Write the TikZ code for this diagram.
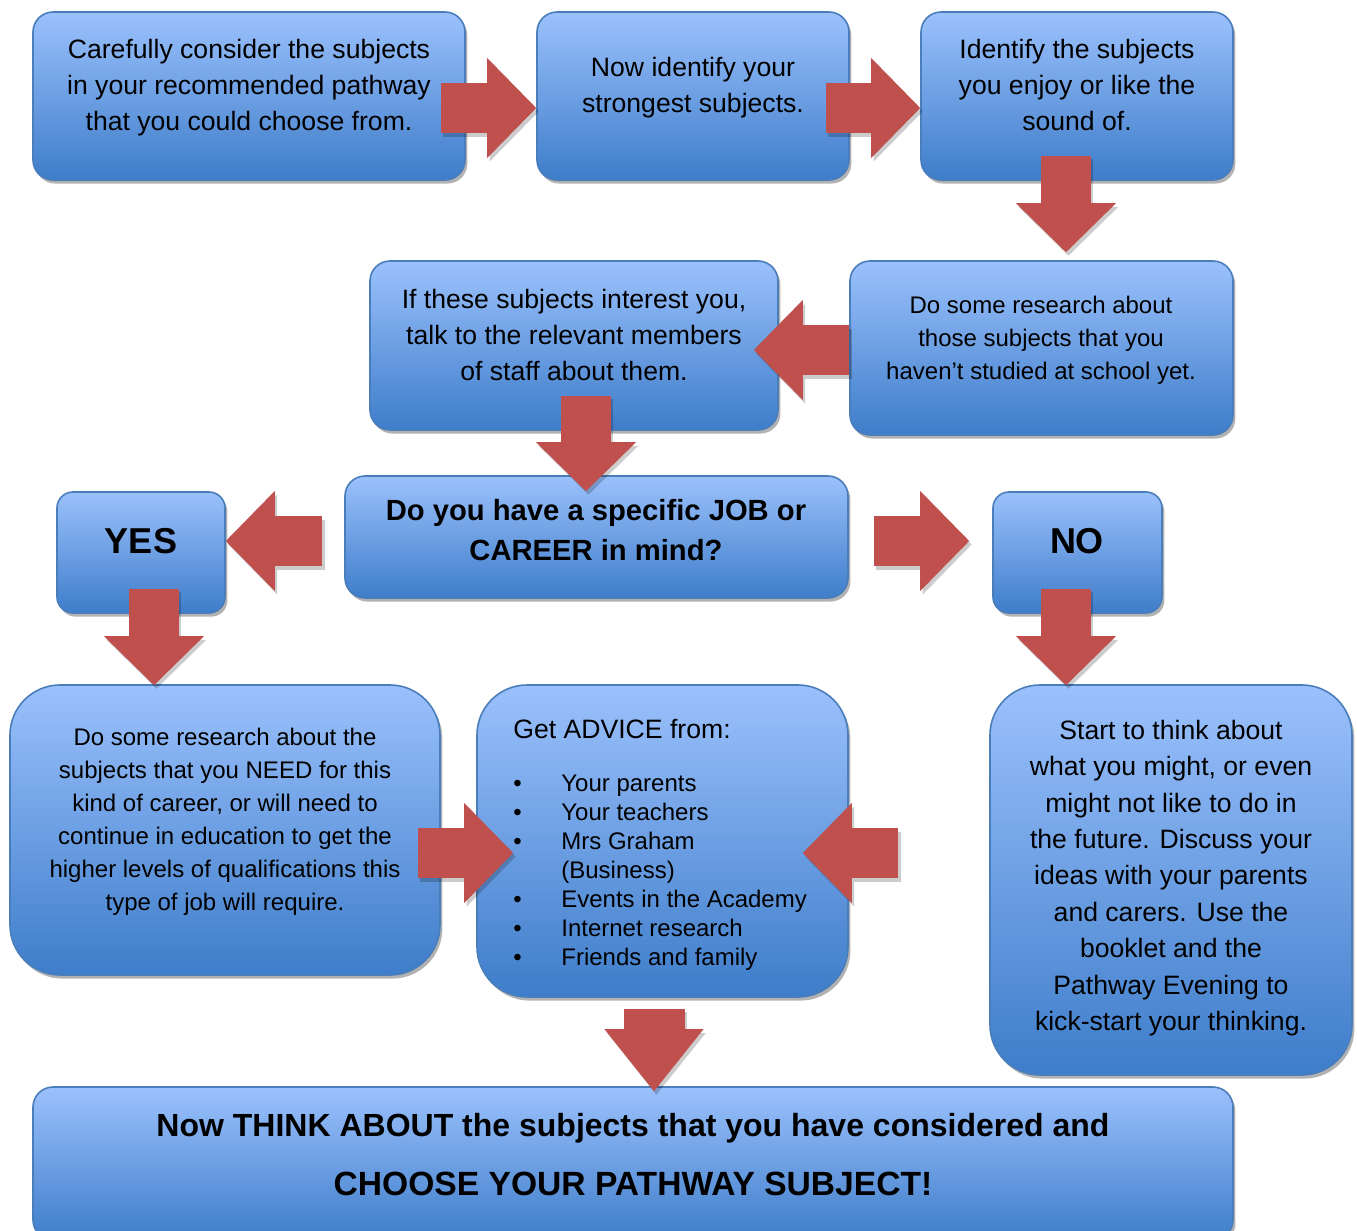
\documentclass[tikz,border=0pt]{standalone}
\usepackage{fontspec}
\setmainfont{Liberation Sans}
\usetikzlibrary{calc,fit,shadows,arrows.meta}

\definecolor{boxtop}{RGB}{155,193,252}
\definecolor{boxbot}{RGB}{62,125,202}
\definecolor{boxline}{RGB}{74,126,187}
\definecolor{arrowred}{RGB}{192,80,77}

\begin{document}
\begin{tikzpicture}[x=0.5pt,y=-0.5pt,inner sep=0pt,
		box/.style={draw=boxline,line width=0.8pt,rounded corners=10pt,top color=boxtop,bottom color=boxbot,inner sep=0pt,
			drop shadow={shadow xshift=1.2pt,shadow yshift=-1.8pt,opacity=.3,fill=black}},
		bigbox/.style={box,rounded corners=25pt},
		smallbox/.style={box,rounded corners=8pt},
		txt/.style={align=center,font=\fontsize{13.3}{18}\selectfont},
		smalltxt/.style={align=center,font=\fontsize{12}{16.5}\selectfont},
		flow/.style={arrowred,line width=25pt,-{Triangle[length=24.5pt,width=50pt,line width=0pt]}},
		flowwide/.style={arrowred,line width=30.5pt,-{Triangle[length=31pt,width=49.5pt,line width=0pt]}},
		flowshadow/.style={black,opacity=.2,transform canvas={shift={(1.2pt,-1.8pt)}}}]
	
	\useasboundingbox (0,0) rectangle (1357,1231);
	
	% boxes
	\node [box, fit={(33,12) (465,180)}] (boxA) {};
	\node [box, fit={(537,12) (849,180)}] (boxB) {};
	\node [box, fit={(921,12) (1233,180)}] (boxC) {};
	\node [box, fit={(850,261) (1233,435)}] (boxD) {};
	\node [box, fit={(370,261) (778,430)}] (boxE) {};
	\node [box, fit={(345,476) (848,598)}] (boxF) {};
	\node [smallbox, fit={(57,492) (225,613)}] (yes) {};
	\node [smallbox, fit={(993,492) (1162,613)}] (no) {};
	\node [bigbox, fit={(10,685) (440,975)}] (boxG) {};
	\node [bigbox, fit={(477,685) (848,997)}] (boxH) {};
	\node [bigbox, fit={(990,685) (1352,1075)}] (boxI) {};
	\node [box, fit={(33,1087) (1233,1240)}] (boxJ) {};
	
	% texts
	\node at (249,88) [txt] (tA) {Carefully consider the subjects\\in your recommended pathway\\that you could choose from.};
	\node at (693,88) [txt] (tB) {Now identify your\\strongest subjects.};
	\node at (1077,85) [txt] (tC) {Identify the subjects\\you enjoy or like the\\sound of.};
	\node at (1041,340) [smalltxt] (tD) {Do some research about\\those subjects that you\\haven’t studied at school yet.};
	\node at (574,335) [txt] (tE) {If these subjects interest you,\\talk to the relevant members\\of staff about them.};
	\node at (596,530) [align=center,font=\fontsize{14.6}{20}\selectfont\bfseries] (tF) {Do you have a specific JOB or\\CAREER in mind?};
	\node at (141,541) [font=\fontsize{18}{22}\selectfont\bfseries] (tYes) {YES};
	\node at (1077,541) [font=\fontsize{18}{22}\selectfont\bfseries] (tNo) {NO};
	\node at (225,822) [smalltxt] (tG) {Do some research about the\\subjects that you NEED for this\\kind of career, or will need to\\continue in education to get the\\higher levels of qualifications this\\type of job will require.};
	\node at (513,719) [anchor=north west,align=left,font=\fontsize{12}{14.5}\selectfont] (tH) {{\fontsize{13.3}{16}\selectfont Get ADVICE from:}\\[12pt]
		\makebox[24pt][l]{\textbullet}Your parents\\
		\makebox[24pt][l]{\textbullet}Your teachers\\
		\makebox[24pt][l]{\textbullet}Mrs Graham\\
		\hspace*{24pt}(Business)\\
		\makebox[24pt][l]{\textbullet}Events in the Academy\\
		\makebox[24pt][l]{\textbullet}Internet research\\
		\makebox[24pt][l]{\textbullet}Friends and family};
	\node at (1171,878) [align=center,font=\fontsize{13.3}{18.2}\selectfont] (tI) {Start to think about\\what you might, or even\\might not like to do in\\the future. Discuss your\\ideas with your parents\\and carers. Use the\\booklet and the\\Pathway Evening to\\kick-start your thinking.};
	\node at (633,1155) [align=center,font=\fontsize{16}{29.5}\selectfont\bfseries] (tJ) {Now THINK ABOUT the subjects that you have considered and\\\fontsize{16.8}{29.5}\selectfont CHOOSE YOUR PATHWAY SUBJECT!};
	
	% arrow ends
	\coordinate (s1) at ($(boxA.east)+(-25,12)$);
	\coordinate (e1) at ($(boxB.west)+(0,12)$);
	\coordinate (s2) at ($(boxB.east)+(-24,12)$);
	\coordinate (e2) at ($(boxC.west)+(0,12)$);
	\coordinate (s3) at ($(boxC.south)+(-11,-25)$);
	\coordinate (e3) at ($(boxD.north)+(24.5,-8)$);
	\coordinate (s4) at ($(boxD.west)+(0,2)$);
	\coordinate (e4) at ($(boxE.east)+(-25,4.5)$);
	\coordinate (s5) at ($(boxE.south)+(12,-35)$);
	\coordinate (e5) at ($(boxF.north)+(-10.5,16)$);
	\coordinate (s6) at ($(boxF.west)+(-22,4)$);
	\coordinate (e6) at ($(yes.east)+(0,-11.5)$);
	\coordinate (s7) at ($(boxF.east)+(25,4)$);
	\coordinate (e7) at ($(no.west)+(-23,-11.5)$);
	\coordinate (s8) at ($(yes.south)+(13,-25)$);
	\coordinate (e8) at ($(boxG.north)+(-71,1)$);
	\coordinate (s9) at ($(no.south)+(-11.5,-25)$);
	\coordinate (e9) at ($(boxI.north)+(-105,1)$);
	\coordinate (s10) at ($(boxG.east)+(-23,23)$);
	\coordinate (e10) at ($(boxH.west)+(37,12)$);
	\coordinate (s11) at ($(boxI.west)+(-91,-27)$);
	\coordinate (e11) at ($(boxH.east)+(-46,12)$);
	\coordinate (s12) at ($(boxH.south)+(-8.5,11)$);
	\coordinate (e12) at ($(boxJ.north)+(21,5)$);
	
	% arrows
	\foreach \i in {1,...,11}{
		\draw [flow,flowshadow] (s\i) -- (e\i);
		\draw [flow] (s\i) -- (e\i);
	}
	\draw [flowwide,flowshadow] (s12) -- (e12);
	\draw [flowwide] (s12) -- (e12);
	
\end{tikzpicture}
\end{document}
